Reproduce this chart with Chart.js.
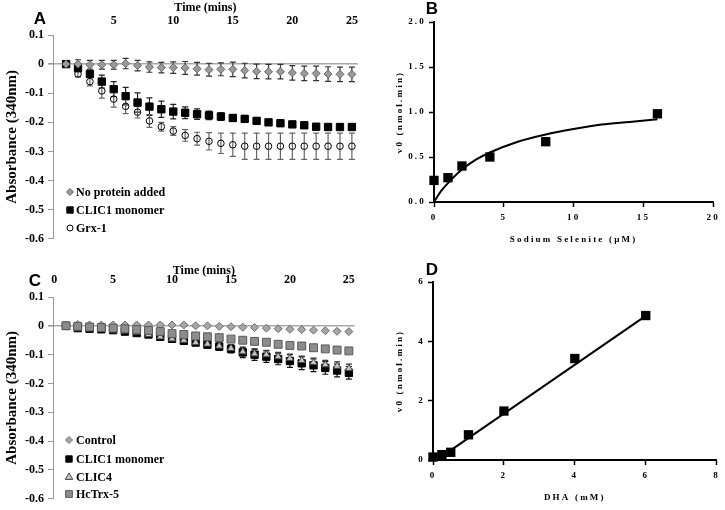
<!DOCTYPE html>
<html><head><meta charset="utf-8">
<script src="https://cdn.jsdelivr.net/npm/chart.js@4.4.1/dist/chart.umd.min.js"></script>
<style>
html,body{margin:0;padding:0;background:#fff}
body{width:725px;height:510px;overflow:hidden;position:relative}
.p{position:absolute}
.lab{position:absolute;font:bold 17px "Liberation Sans",Arial,sans-serif;transform:translate(-50%,-50%);line-height:1}
</style></head><body>
<div class="p" style="left:0;top:0;width:365px;height:250px"><canvas id="cA"></canvas></div>
<div class="p" style="left:370px;top:0;width:355px;height:255px"><canvas id="cB"></canvas></div>
<div class="p" style="left:0;top:255px;width:365px;height:255px"><canvas id="cC"></canvas></div>
<div class="p" style="left:370px;top:255px;width:355px;height:255px"><canvas id="cD"></canvas></div>
<div class="lab" style="left:40px;top:18px">A</div>
<div class="lab" style="left:432px;top:8px">B</div>
<div class="lab" style="left:35px;top:280px">C</div>
<div class="lab" style="left:432px;top:269px">D</div>
<script>
// ---------- Panel A data ----------
const timeA = [1,2,3,4,5,6,7,8,9,10,11,12,13,14,15,16,17,18,19,20,21,22,23,24,25];
const noProtein = [0,0,-0.002,-0.002,-0.002,0.002,-0.005,-0.01,-0.012,-0.012,-0.013,-0.016,-0.019,-0.018,-0.018,-0.022,-0.025,-0.026,-0.026,-0.03,-0.032,-0.032,-0.034,-0.035,-0.035];
const noProteinErr = [0,0.015,0.015,0.015,0.015,0.018,0.018,0.018,0.018,0.02,0.022,0.022,0.022,0.022,0.025,0.025,0.025,0.025,0.025,0.025,0.025,0.025,0.025,0.025,0.025];
const clic1A = [0,-0.014,-0.034,-0.06,-0.086,-0.11,-0.132,-0.146,-0.155,-0.163,-0.167,-0.172,-0.176,-0.18,-0.185,-0.188,-0.195,-0.2,-0.203,-0.207,-0.21,-0.215,-0.216,-0.216,-0.216];
const clic1AErr = [0,0.005,0.01,0.022,0.026,0.03,0.033,0.03,0.028,0.025,0.02,0.018,0.015,0.013,0.012,0.01,0.008,0.007,0.007,0.007,0.007,0.007,0.007,0.007,0.007];
const grx1 = [0,-0.034,-0.06,-0.092,-0.12,-0.145,-0.165,-0.195,-0.215,-0.23,-0.245,-0.256,-0.265,-0.272,-0.277,-0.282,-0.282,-0.282,-0.282,-0.282,-0.282,-0.282,-0.282,-0.282,-0.282];
const grx1Err = [0,0.01,0.015,0.025,0.028,0.025,0.02,0.022,0.015,0.015,0.02,0.022,0.03,0.035,0.04,0.045,0.045,0.045,0.045,0.045,0.045,0.045,0.045,0.045,0.045];
const ticksA = [5,10,15,20,25];
// ---------- Panel C data ----------
const timeC = [1,2,3,4,5,6,7,8,9,10,11,12,13,14,15,16,17,18,19,20,21,22,23,24,25];
const control = [0,0.005,0.003,0.003,0.003,0.003,0.003,0.003,0.003,0.003,0.003,0,0,-0.002,-0.003,-0.005,-0.006,-0.008,-0.01,-0.012,-0.013,-0.015,-0.017,-0.019,-0.02];
const controlErr = [0,0.003,0.003,0.003,0.003,0.003,0.003,0.003,0.003,0.003,0.003,0.003,0.003,0.003,0.003,0.003,0.003,0.003,0.003,0.003,0.003,0.003,0.003,0.003,0.003];
const clic1C = [0,-0.008,-0.01,-0.012,-0.015,-0.02,-0.025,-0.03,-0.038,-0.045,-0.052,-0.058,-0.065,-0.072,-0.08,-0.092,-0.1,-0.107,-0.115,-0.122,-0.13,-0.137,-0.146,-0.155,-0.163];
const clic1CErr = [0,0.005,0.005,0.005,0.005,0.005,0.006,0.006,0.008,0.008,0.008,0.01,0.012,0.012,0.014,0.018,0.02,0.02,0.02,0.022,0.022,0.022,0.022,0.022,0.022];
const clic4 = [0,-0.005,-0.008,-0.01,-0.013,-0.018,-0.023,-0.03,-0.038,-0.045,-0.05,-0.058,-0.063,-0.07,-0.078,-0.09,-0.097,-0.1,-0.107,-0.113,-0.12,-0.127,-0.135,-0.14,-0.148];
const clic4Err = [0,0.004,0.004,0.004,0.004,0.005,0.005,0.006,0.006,0.007,0.008,0.008,0.01,0.01,0.012,0.014,0.015,0.015,0.015,0.015,0.015,0.015,0.015,0.015,0.015];
const hctrx5 = [0,-0.002,-0.004,-0.006,-0.008,-0.01,-0.013,-0.016,-0.02,-0.027,-0.03,-0.035,-0.038,-0.041,-0.046,-0.05,-0.054,-0.057,-0.064,-0.068,-0.07,-0.076,-0.08,-0.084,-0.087];
const hctrx5Err = [0,0.003,0.003,0.003,0.003,0.003,0.003,0.003,0.003,0.003,0.003,0.003,0.003,0.003,0.003,0.003,0.003,0.003,0.003,0.003,0.003,0.003,0.003,0.003,0.003];
const ticksC = [0,5,10,15,20,25];
// ---------- Panel B data ----------
const seleniteConc = [0,1,2,4,8,16];
const seleniteV0 = [0.24,0.27,0.40,0.50,0.67,0.98];
const seleniteFitX = [0,0.5,1,2,3,4,6,8,10,12,14,16];
const seleniteFitY = [0,0.12,0.21,0.36,0.47,0.55,0.67,0.75,0.81,0.86,0.89,0.92];
// ---------- Panel D data ----------
const dhaConc = [0,0.25,0.5,1,2,4,6];
const dhaV0 = [0.10,0.18,0.26,0.85,1.65,3.42,4.87];
const dhaFitX = [0.25,6];
const dhaFitY = [0.12,4.86];

const SERIF = '"Liberation Serif","Times New Roman",serif';
const pts = (xs, ys) => xs.map((x,i)=>({x:x, y:ys[i]}));

const errorBars = {
  id:'errorBars',
  beforeDatasetsDraw(chart){
    const ctx = chart.ctx, ys = chart.scales.y;
    chart.data.datasets.forEach((ds,i)=>{
      if(!ds.errors) return;
      const meta = chart.getDatasetMeta(i);
      ctx.save();
      ctx.strokeStyle = ds.errorColor || '#222';
      ctx.lineWidth = 1.2;
      ctx.beginPath();
      meta.data.forEach((pt,j)=>{
        const e = ds.errors[j]; if(!e) return;
        const v = ds.data[j].y;
        const y1 = ys.getPixelForValue(v+e), y2 = ys.getPixelForValue(v-e);
        ctx.moveTo(pt.x,y1); ctx.lineTo(pt.x,y2);
        ctx.moveTo(pt.x-3,y1); ctx.lineTo(pt.x+3,y1);
        ctx.moveTo(pt.x-3,y2); ctx.lineTo(pt.x+3,y2);
      });
      ctx.stroke();
      ctx.restore();
    });
  }
};

function marker(ctx, style, x, y, r, fill, stroke, bw){
  ctx.save();
  ctx.fillStyle = fill; ctx.strokeStyle = stroke; ctx.lineWidth = bw;
  ctx.beginPath();
  if(style==='rect'){ const s=r*Math.SQRT1_2; ctx.rect(x-s,y-s,2*s,2*s); }
  else if(style==='rectRot'){ ctx.moveTo(x,y-r); ctx.lineTo(x+r,y); ctx.lineTo(x,y+r); ctx.lineTo(x-r,y); ctx.closePath(); }
  else if(style==='triangle'){ ctx.moveTo(x,y-r); ctx.lineTo(x+r*0.95,y+r*0.6); ctx.lineTo(x-r*0.95,y+r*0.6); ctx.closePath(); }
  else { ctx.arc(x,y,r,0,Math.PI*2); }
  ctx.fill(); if(bw>0) ctx.stroke();
  ctx.restore();
}

const inLegend = {
  id:'inLegend',
  afterDraw(chart, args, opts){
    if(!opts || !opts.rows) return;
    const ctx = chart.ctx;
    ctx.save();
    ctx.font = 'bold 12px ' + SERIF;
    ctx.fillStyle = '#000';
    ctx.textBaseline = 'middle';
    ctx.textAlign = 'left';
    chart.data.datasets.forEach((ds,i)=>{
      const y = opts.rows[i];
      marker(ctx, ds.pointStyle, opts.mx, y, ds.legendRadius, ds.pointBackgroundColor, ds.pointBorderColor, ds.pointBorderWidth);
      ctx.fillStyle = '#000';
      ctx.fillText(ds.label, opts.tx, y+0.5);
    });
    ctx.restore();
  }
};

const spacing = {
  id:'spacing',
  beforeLayout(chart){ chart.ctx.letterSpacing = '2.2px'; },
  beforeDraw(chart){ chart.ctx.letterSpacing = '2.2px'; }
};

function timeOptions(cfg){
  return {
    responsive:true, maintainAspectRatio:false, animation:false,
    layout:{padding:{left:0,right:5,top:0,bottom:cfg.padBottom}},
    plugins:{legend:{display:false}, tooltip:{enabled:false}, inLegend:cfg.legend},
    scales:{
      x:{type:'linear', position:'top', min:cfg.xMin, max:25.5,
        afterFit(s){ s.height = cfg.xHeight; },
        afterBuildTicks(s){ s.ticks = cfg.ticks.map(v=>({value:v})); },
        grid:{display:false, drawTicks:false, tickLength:0}, border:{display:false},
        ticks:{font:{family:SERIF, size:12, weight:'bold'}, color:'#000', padding:cfg.tickPad, maxRotation:0},
        title:{display:true, text:'Time (mins)', font:{family:SERIF, size:12, weight:'bold'}, color:'#000', padding:{top:cfg.titlePad,bottom:0}}
      },
      y:{min:-0.6, max:0.1,
        afterFit(s){ s.width = cfg.yWidth; },
        ticks:{stepSize:0.1, font:{family:SERIF, size:12, weight:'bold'}, color:'#000', padding:4,
          callback:v=> Math.abs(v)<1e-9 ? '0' : v.toFixed(1)},
        grid:{drawTicks:true, tickLength:5, tickColor:'#999',
          color:c=> (c.tick && Math.abs(c.tick.value)<1e-9) ? '#a8a8a8' : 'rgba(0,0,0,0)',
          lineWidth:c=> (c.tick && Math.abs(c.tick.value)<1e-9) ? 1.6 : 1},
        border:{display:true, color:'#999', width:1},
        title:{display:true, text:'Absorbance (340nm)', font:{family:SERIF, size:15, weight:'bold'}, color:'#000', padding:{top:3,bottom:0}}
      }
    }
  };
}

// Panel A
new Chart(document.getElementById('cA'), {
  type:'scatter',
  data:{datasets:[
    {label:'No protein added', data:pts(timeA,noProtein), errors:noProteinErr, errorColor:'#333',
     pointStyle:'rectRot', pointRadius:4, pointBackgroundColor:'#9a9a9a', pointBorderColor:'#666', pointBorderWidth:1, legendRadius:3.5},
    {label:'CLIC1 monomer', data:pts(timeA,clic1A), errors:clic1AErr, errorColor:'#222',
     pointStyle:'rect', pointRadius:5.2, pointBackgroundColor:'#000', pointBorderColor:'#000', pointBorderWidth:1, legendRadius:4.5},
    {label:'Grx-1', data:pts(timeA,grx1), errors:grx1Err, errorColor:'#666',
     pointStyle:'circle', pointRadius:3.3, pointBackgroundColor:'rgba(255,255,255,0)', pointBorderColor:'#000', pointBorderWidth:1, legendRadius:3}
  ]},
  options:timeOptions({xMin:-0.1, ticks:ticksA, xHeight:35, yWidth:53, padBottom:11, tickPad:7, titlePad:1,
    legend:{mx:70, tx:76, rows:[192,210,228]}}),
  plugins:[errorBars, inLegend]
});

// Panel C
new Chart(document.getElementById('cC'), {
  type:'scatter',
  data:{datasets:[
    {label:'Control', data:pts(timeC,control), errors:controlErr, errorColor:'#555', order:3,
     pointStyle:'rectRot', pointRadius:4, pointBackgroundColor:'#a6a6a6', pointBorderColor:'#707070', pointBorderWidth:1, legendRadius:3.5},
    {label:'CLIC1 monomer', data:pts(timeC,clic1C), errors:clic1CErr, errorColor:'#111', order:2,
     pointStyle:'rect', pointRadius:5.2, pointBackgroundColor:'#000', pointBorderColor:'#000', pointBorderWidth:1, legendRadius:4.5},
    {label:'CLIC4', data:pts(timeC,clic4), errors:clic4Err, errorColor:'#333', order:1,
     pointStyle:'triangle', pointRadius:4.2, pointBackgroundColor:'#c4c4c4', pointBorderColor:'#444', pointBorderWidth:1, legendRadius:4},
    {label:'HcTrx-5', data:pts(timeC,hctrx5), errors:hctrx5Err, errorColor:'#555', order:0,
     pointStyle:'rect', pointRadius:5.6, pointBackgroundColor:'#8c8c8c', pointBorderColor:'#5a5a5a', pointBorderWidth:1, legendRadius:4.8}
  ]},
  options:timeOptions({xMin:-0.1, ticks:ticksC, xHeight:42, yWidth:53, padBottom:7, tickPad:10, titlePad:9,
    legend:{mx:69, tx:76, rows:[185,204,222,239]}}),
  plugins:[errorBars, inLegend]
});

function kinOptions(cfg){
  const tickFont = {family:SERIF, size:9, weight:'bold'};
  return {
    responsive:true, maintainAspectRatio:false, animation:false,
    layout:{padding:{left:0,right:8,top:cfg.padTop,bottom:0}},
    plugins:{legend:{display:false}, tooltip:{enabled:false}},
    scales:{
      x:{type:'linear', min:cfg.xMin, max:cfg.xMax,
        afterFit(s){ s.height = cfg.xHeight; },
        ticks:{stepSize:cfg.xStep, font:tickFont, color:'#000', padding:cfg.xTickPad, maxRotation:0},
        grid:{drawOnChartArea:false, drawTicks:true, tickLength:5, tickColor:'#000', tickWidth:1.5},
        border:{display:true, color:'#000', width:2},
        title:{display:true, text:cfg.xTitle, font:{family:SERIF, size:9, weight:'bold'}, color:'#000', padding:{top:0,bottom:cfg.xTitlePad}}
      },
      y:{min:cfg.yMin, max:cfg.yMax,
        afterFit(s){ s.width = cfg.yWidth; },
        ticks:{stepSize:cfg.yStep, font:tickFont, color:'#000', padding:3, callback:cfg.yFmt},
        grid:{drawOnChartArea:false, drawTicks:true, tickLength:5, tickColor:'#000', tickWidth:1.5},
        border:{display:true, color:'#000', width:2},
        title:{display:true, text:'v0 (nmol.min)', font:{family:SERIF, size:9, weight:'bold'}, color:'#000', padding:{top:24,bottom:0}}
      }
    }
  };
}

// Panel B
new Chart(document.getElementById('cB'), {
  type:'scatter',
  data:{datasets:[
    {data:pts(seleniteConc,seleniteV0), clip:false, pointStyle:'rect', pointRadius:6.6, pointBackgroundColor:'#000', pointBorderColor:'#000', pointBorderWidth:0},
    {type:'line', data:pts(seleniteFitX,seleniteFitY), showLine:true, pointRadius:0, borderColor:'#000', borderWidth:2, cubicInterpolationMode:'monotone', fill:false}
  ]},
  options:kinOptions({xMin:0,xMax:20,xStep:5,yMin:0,yMax:2,yStep:0.5,xHeight:53,yWidth:64,padTop:22,xTickPad:5,xTitlePad:10,
    xTitle:'Sodium Selenite (µM)', yFmt:v=>v.toFixed(1)}),
  plugins:[spacing]
});

// Panel D
new Chart(document.getElementById('cD'), {
  type:'scatter',
  data:{datasets:[
    {data:pts(dhaConc,dhaV0), clip:false, pointStyle:'rect', pointRadius:6.6, pointBackgroundColor:'#000', pointBorderColor:'#000', pointBorderWidth:0},
    {type:'line', data:pts(dhaFitX,dhaFitY), showLine:true, pointRadius:0, borderColor:'#000', borderWidth:2, fill:false}
  ]},
  options:kinOptions({xMin:0,xMax:8,xStep:2,yMin:0,yMax:6,yStep:2,xHeight:50,yWidth:63,padTop:27,xTickPad:5,xTitlePad:7,
    xTitle:'DHA (mM)', yFmt:v=>String(v)}),
  plugins:[spacing]
});
</script>
</body></html>
